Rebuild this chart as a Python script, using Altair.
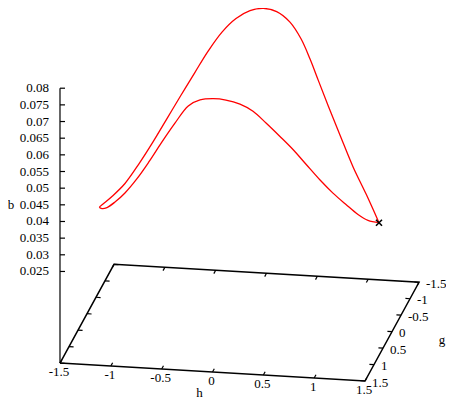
import altair as alt
import pandas as pd

# ---- data: 3D trajectory (h, g, b) ----
h_vals = [1.310, 1.168, 1.022, 0.873, 0.744, 0.630, 0.531, 0.428, 0.307, 0.162,
          0.022, -0.109, -0.238, -0.358, -0.473, -0.576, -0.682, -0.784, -0.886, -0.989,
          -1.091, -1.196, -1.268, -1.297, -1.273, -1.224, -1.145, -1.047, -0.932, -0.819,
          -0.702, -0.580, -0.458, -0.351, -0.229, -0.112, 0.019, 0.140, 0.261, 0.391,
          0.512, 0.633, 0.764, 0.884, 1.005, 1.116, 1.207, 1.310]
g_vals = [-0.35, -0.45, -0.55, -0.65, -0.74, -0.83, -0.92, -1.0, -1.07, -1.15,
          -1.2, -1.2, -1.15, -1.05, -0.92, -0.78, -0.6, -0.4, -0.2, 0.0,
          0.2, 0.33, 0.42, 0.45, 0.45, 0.45, 0.45, 0.45, 0.43, 0.4,
          0.36, 0.31, 0.26, 0.21, 0.16, 0.12, 0.08, 0.04, 0.0, -0.04,
          -0.08, -0.12, -0.16, -0.2, -0.24, -0.28, -0.32, -0.35]
b_vals = [0.0264, 0.0336, 0.0405, 0.0490, 0.0564, 0.0630, 0.0685, 0.0736, 0.0777, 0.0798,
          0.0800, 0.0791, 0.0770, 0.0737, 0.0690, 0.0639, 0.0586, 0.0534, 0.0482, 0.0434,
          0.0393, 0.0365, 0.0350, 0.0343, 0.0339, 0.0343, 0.0361, 0.0390, 0.0433, 0.0483,
          0.0539, 0.0594, 0.0643, 0.0658, 0.0659, 0.0653, 0.0639, 0.0616, 0.0579, 0.0537,
          0.0496, 0.0450, 0.0401, 0.0360, 0.0324, 0.0292, 0.0272, 0.0264]

start_point = {"h": 1.310, "g": -0.35, "b": 0.0264}

h_ticks = [-1.5, -1, -0.5, 0, 0.5, 1, 1.5]
g_ticks = [-1.5, -1, -0.5, 0, 0.5, 1, 1.5]
b_ticks = [0.025, 0.03, 0.035, 0.04, 0.045, 0.05, 0.055, 0.06, 0.065, 0.07, 0.075, 0.08]
h_range = [-1.5, 1.5]
g_range = [-1.5, 1.5]
b_range = [0.025, 0.08]
ticslevel = 0.5

# ---- view / projection (gnuplot-like splot view) ----
W, H = 438, 392
CX, CY = 239.5, 327.25              # (h=0, g=0) on base plane
HX, HY = 101.67, 6.17               # px per unit h
GX, GY = -18.0, 34.0                # px per unit g
KZ = 3442.0                         # px per unit b
Z_BASE = b_range[0] - ticslevel * (b_range[1] - b_range[0])
SY, OY = 0.968, 5.9                 # fit vertical extent into the page area


def project(h, g, b):
    xr = CX + HX * h + GX * g
    yr = CY + HY * h + GY * g - KZ * (b - Z_BASE)
    return xr - 8, OY + SY * yr - 8


xs = alt.Scale(domain=[0, W], nice=False, zero=False)
ys = alt.Scale(domain=[0, H], reverse=True, nice=False, zero=False)
X = lambda f="x": alt.X(f"{f}:Q", scale=xs, axis=None)
Y = lambda f="y": alt.Y(f"{f}:Q", scale=ys, axis=None)
FONT = "Liberation Serif, Times New Roman, serif"
FS = 13

# curve
rows = []
for i, (h, g, b) in enumerate(zip(h_vals, g_vals, b_vals)):
    x, y = project(h, g, b)
    rows.append({"i": i, "x": x, "y": y})
curve_df = pd.DataFrame(rows)
curve = alt.Chart(curve_df).mark_line(color="#ff0000", strokeWidth=1.3,
                                      interpolate="catmull-rom").encode(
    x=X(), y=Y(), order="i:Q")

# start marker
sx, sy = project(start_point["h"], start_point["g"], start_point["b"])
marker = alt.Chart(pd.DataFrame([{"x": sx, "y": sy}])).mark_point(
    shape="M -1 -1 L 1 1 M -1 1 L 1 -1", filled=False, color="black",
    strokeWidth=1.6, size=36, opacity=1).encode(x=X(), y=Y())

# base frame
corners = [(h_range[0], g_range[1]), (h_range[1], g_range[1]),
           (h_range[1], g_range[0]), (h_range[0], g_range[0]),
           (h_range[0], g_range[1])]
frame_df = pd.DataFrame([{"i": i, "x": project(h, g, Z_BASE)[0],
                          "y": project(h, g, Z_BASE)[1]}
                         for i, (h, g) in enumerate(corners)])
frame = alt.Chart(frame_df).mark_line(color="black", strokeWidth=1.5).encode(
    x=X(), y=Y(), order="i:Q")

# segments: z axis line + ticks
segs = []
x0, y0 = project(h_range[0], g_range[1], Z_BASE)
x1, y1 = project(h_range[0], g_range[1], b_range[1])
segs.append({"x": x0, "y": y0, "x2": x1, "y2": y1})
for b in b_ticks:
    xa, ya = project(h_range[0], g_range[1], b)
    segs.append({"x": xa, "y": ya, "x2": xa + 5, "y2": ya})
for h in h_ticks:
    for g_edge, d in ((g_range[1], -0.1), (g_range[0], 0.1)):
        xa, ya = project(h, g_edge, Z_BASE)
        xb, yb = project(h, g_edge + d, Z_BASE)
        segs.append({"x": xa, "y": ya, "x2": xb, "y2": yb})
for g in g_ticks:
    for h_edge, d in ((h_range[1], -0.045), (h_range[0], 0.045)):
        xa, ya = project(h_edge, g, Z_BASE)
        xb, yb = project(h_edge + d, g, Z_BASE)
        segs.append({"x": xa, "y": ya, "x2": xb, "y2": yb})
seg_df = pd.DataFrame(segs)
ticks = alt.Chart(seg_df).mark_rule(color="black", strokeWidth=1.2).encode(
    x=X(), y=Y(), x2="x2:Q", y2="y2:Q")

# tick labels
fmt = lambda v: f"{v:g}"
bl = pd.DataFrame([{"x": project(h_range[0], g_range[1], b)[0] - 11,
                    "y": project(h_range[0], g_range[1], b)[1], "t": fmt(b)}
                   for b in b_ticks])
hl = pd.DataFrame([{"x": project(h, g_range[1], Z_BASE)[0] - 1,
                    "y": project(h, g_range[1], Z_BASE)[1] + 9, "t": fmt(h)}
                   for h in h_ticks])
gl = pd.DataFrame([{"x": project(h_range[1], g, Z_BASE)[0] + 7,
                    "y": project(h_range[1], g, Z_BASE)[1] + 1.5, "t": fmt(g)}
                   for g in g_ticks])


def text_layer(df, align):
    return alt.Chart(df).mark_text(font=FONT, fontSize=FS, color="black",
                                   align=align, baseline="middle").encode(
        x=X(), y=Y(), text="t:N")


# axis titles
hx, hy = project(0, g_range[1], Z_BASE)
gx, gy = project(h_range[1], 0, Z_BASE)
bx, by = project(h_range[0], g_range[1], 0.045)
titles = pd.DataFrame([
    {"x": hx - 13, "y": hy + 21, "t": "h"},
    {"x": gx + 50, "y": gy + 8, "t": "g"},
    {"x": bx - 49, "y": by, "t": "b"},
])

chart = alt.layer(
    frame, ticks,
    text_layer(bl, "right"), text_layer(hl, "center"), text_layer(gl, "left"),
    text_layer(titles, "center"),
    curve, marker,
).properties(width=W, height=H, padding=0, autosize="none").configure_view(stroke=None)

chart.save("out.html", embed_options={"renderer": "svg", "actions": False})
